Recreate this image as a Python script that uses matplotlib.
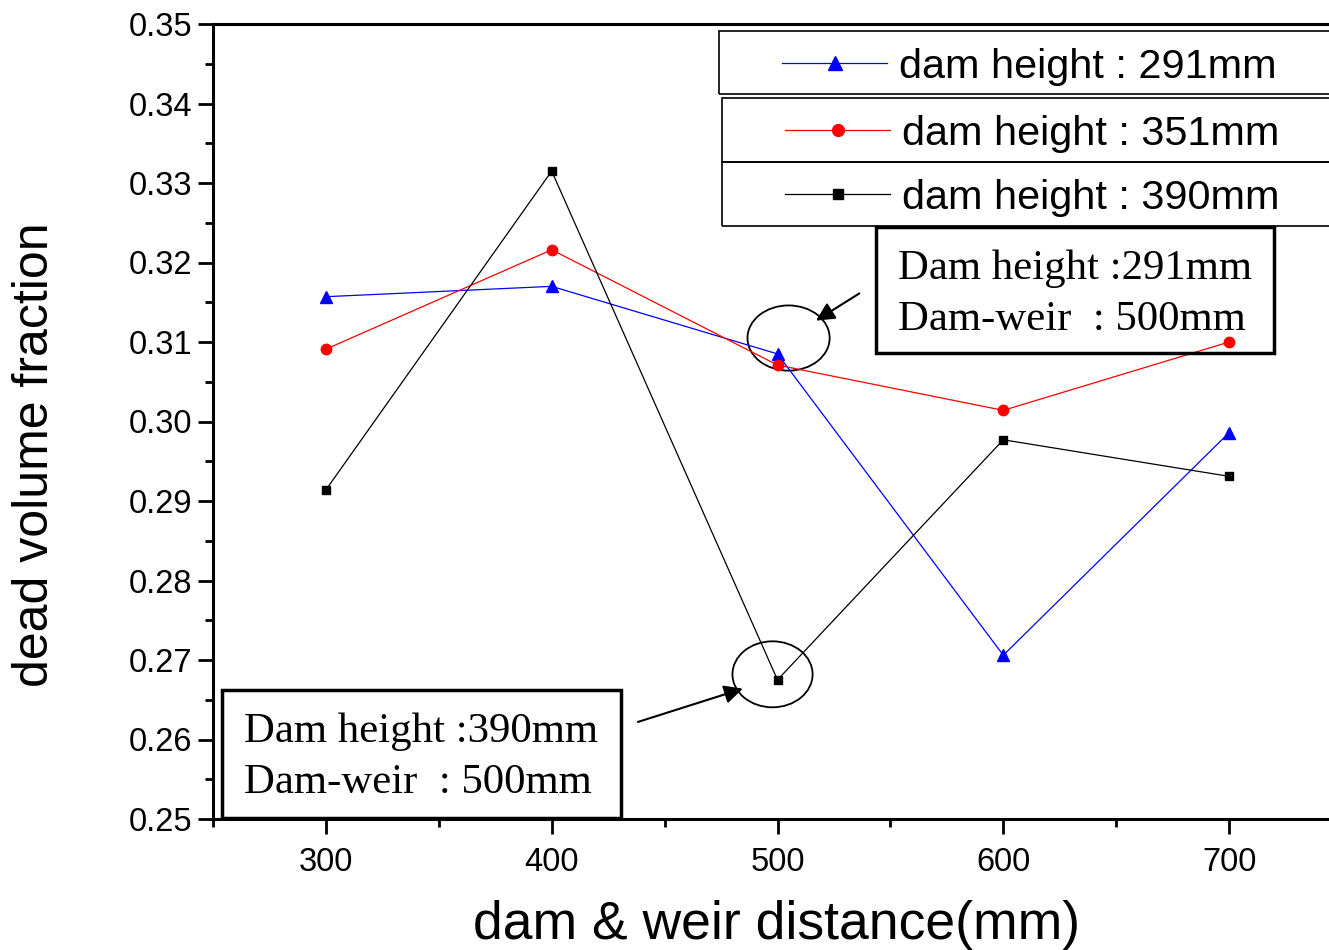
import matplotlib
matplotlib.use("Agg")
import matplotlib.pyplot as plt
from matplotlib.patches import Rectangle, Ellipse
from matplotlib.lines import Line2D
from matplotlib.ticker import MultipleLocator, FormatStrFormatter

plt.rcParams["font.family"] = ["Liberation Sans", "DejaVu Sans"]

# data
distance = [300, 400, 500, 600, 700]
h291 = [0.3157, 0.3170, 0.3085, 0.2706, 0.2986]
h351 = [0.3091, 0.3216, 0.3071, 0.3014, 0.3100]
h390 = [0.2914, 0.3315, 0.2675, 0.2977, 0.2931]
labels = ["dam height : 291mm", "dam height : 351mm", "dam height : 390mm"]

W, H = 1329, 950
fig = plt.figure(figsize=(W / 100, H / 100), dpi=100)
ax = fig.add_axes([213 / W, 1 - 819 / H, (1342 - 213) / W, (819 - 24) / H])

def fx(x):
	return x / W

def fy(y):
	return 1 - y / H

ax.plot(distance, h291, color="blue", marker="^", ms=8.5, lw=0.9, zorder=5)
ax.plot(distance, h351, color="red", marker="o", ms=7.5, lw=0.9, zorder=5)
ax.plot(distance, h390, color="black", marker="s", ms=6, lw=0.9, zorder=5)

ax.set_xlim(250, 750)
ax.set_ylim(0.25, 0.35)
ax.xaxis.set_major_locator(MultipleLocator(100))
ax.xaxis.set_minor_locator(MultipleLocator(50))
ax.yaxis.set_major_locator(MultipleLocator(0.01))
ax.yaxis.set_minor_locator(MultipleLocator(0.005))
ax.yaxis.set_major_formatter(FormatStrFormatter("%.2f"))
ax.tick_params(which="major", direction="out", length=11, width=2, labelsize=23.5)
ax.tick_params(which="minor", direction="out", length=6, width=2)
ax.tick_params(axis="x", which="major", pad=9)
ax.tick_params(axis="y", which="major", pad=4)
for s in ax.spines.values():
	s.set_linewidth(2.2)

fig.text(fx(35), fy(455), "dead volume fraction", rotation=90, ha="center", va="center",
	fontsize=36)
fig.text(fx(777), fy(925), "dam & weir distance(mm)", ha="center", va="center",
	fontsize=38.5)

# legend boxes
boxes = [(719, 31, 94), (722, 98, 162), (722, 162, 226)]
styles = [("blue", "^", 10), ("red", "o", 8.5), ("black", "s", 7)]
for (x0, y0, y1), (c, m, ms), lab in zip(boxes, styles, labels):
	fig.patches.append(Rectangle((fx(x0), fy(y1)), fx(1400 - x0), (y1 - y0) / H,
		transform=fig.transFigure, fill=False, lw=1.2, ec="black"))
	yc = (y0 + y1) / 2
	fig.lines.append(Line2D([fx(x0 + 63), fx(x0 + 168)], [fy(yc), fy(yc)], color=c, lw=0.9,
		transform=fig.transFigure))
	fig.lines.append(Line2D([fx(x0 + 116)], [fy(yc)], color=c, marker=m, ms=ms,
		transform=fig.transFigure))
	fig.text(fx(x0 + 180), fy(yc), lab, ha="left", va="center_baseline", fontsize=29.8)

# annotation boxes
notes = [(876, 227, 1274, 353, "Dam height :291mm", "Dam-weir  : 500mm"),
	(222, 690, 621, 818, "Dam height :390mm", "Dam-weir  : 500mm")]
for x0, y0, x1, y1, t1, t2 in notes:
	fig.patches.append(Rectangle((fx(x0), fy(y1)), (x1 - x0) / W, (y1 - y0) / H,
		transform=fig.transFigure, fill=False, lw=2.5, ec="black"))
	fig.text(fx(x0 + 22), fy(y0 + 52), t1, ha="left", va="baseline", fontsize=30.8,
		family="Liberation Serif")
	fig.text(fx(x0 + 22), fy(y0 + 103), t2, ha="left", va="baseline", fontsize=30.8,
		family="Liberation Serif")

ax.add_patch(Ellipse((504.9, 0.3105), 36.4, 0.0082, fill=False, lw=1.3, ec="black"))
ax.add_patch(Ellipse((497.8, 0.2682), 35.5, 0.0083, fill=False, lw=1.3, ec="black"))
ax.annotate("", xy=(516.0, 0.3125), xytext=(537.3, 0.3163),
	arrowprops=dict(arrowstyle="-|>", color="black", lw=1.5, mutation_scale=28))
ax.annotate("", xy=(485.8, 0.2665), xytext=(437.0, 0.2621),
	arrowprops=dict(arrowstyle="-|>", color="black", lw=1.5, mutation_scale=28))

fig.savefig("out.png", dpi=100)
